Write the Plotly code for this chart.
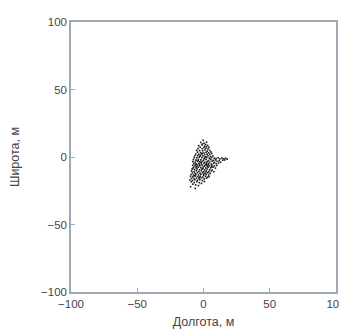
import plotly.graph_objects as go

lon = [-2.1,0.4,2.3,-0.8,1.5,
       -3.6,-1.2,0.9,3.1,-2.5,0.2,2.2,4.0,-4.1,-1.0,1.6,3.3,
       -5.2,-3.0,-0.6,1.1,2.8,4.6,-4.5,-2.2,0.3,2.0,3.9,5.5,-5.8,-3.6,-1.4,0.9,2.7,4.7,6.2,
       -6.5,-4.4,-2.6,-0.5,1.6,3.4,5.3,7.1,-7.0,-5.1,-3.2,-1.3,0.7,2.5,4.4,6.3,8.2,
       9.5,11.0,12.4,13.8,15.2,16.6,17.8,14.5,11.8,10.2,16.0,
       -7.6,-5.7,-3.9,-2.0,0.0,1.9,3.7,5.6,7.4,9.0,-8.0,-6.2,-4.5,-2.7,-0.9,1.0,2.8,4.6,6.5,8.3,12.9,
       -7.3,-5.3,-3.4,-1.6,0.3,2.1,3.9,5.8,7.6,9.6,11.3,
       -8.2,-6.4,-4.6,-2.8,-1.0,0.8,2.6,4.5,6.3,8.2,10.1,-7.5,-5.6,-3.8,-2.0,-0.2,1.7,3.5,5.4,7.2,9.0,
       -8.6,-6.7,-4.9,-3.0,-1.1,0.9,2.7,4.6,6.5,
       -9.0,-7.1,-5.3,-3.5,-1.6,0.3,2.2,4.0,5.9,-8.3,-6.4,-4.5,-2.6,-0.7,1.2,3.1,5.0,
       -9.4,-7.6,-5.7,-3.8,-1.9,0.1,2.0,3.9,
       -9.8,-8.0,-6.1,-4.2,-2.4,-0.5,1.4,3.0,-9.1,-7.2,-5.3,-3.4,-1.5,0.5,2.3,
       -10.3,-8.4,-6.5,-4.6,-2.7,-0.8,
       -9.2,-7.0,-5.0,-3.1,-8.1,-5.9,-3.8,-1.5,
       -4.0,-1.8,0.6,2.4,4.9,-6.0,-3.1,1.4,3.0,-0.4,-5.0,6.0,-2.3,1.3,-1.0,3.6,-7.8,0.0,-2.9,-6.9,
       -0.2,1.9,4.2,7.8,-9.7,-6.2,0.7]
lat = [10.8,10.2,11.0,9.6,9.3,
       8.4,8.9,8.1,8.6,7.2,7.0,7.5,7.1,6.3,6.1,6.4,5.9,
       5.0,4.8,4.6,5.2,4.3,4.9,3.6,3.3,3.0,3.5,3.1,3.8,2.2,2.0,2.4,1.8,2.1,1.9,2.6,
       0.9,1.0,0.6,0.8,0.3,0.9,0.4,0.7,-0.4,-0.6,-0.2,-0.5,-0.8,-0.3,-0.7,-0.4,-0.9,
       -1.2,-0.6,-1.5,-0.8,-1.3,-0.9,-1.6,-2.4,-2.7,-3.1,-2.2,
       -1.9,-2.3,-1.8,-2.1,-2.5,-1.9,-2.6,-2.0,-2.5,-2.2,-3.4,-3.8,-3.2,-3.6,-3.3,-3.9,-3.4,-3.7,-3.2,-3.9,-3.8,
       -4.9,-5.1,-4.6,-5.0,-4.7,-5.3,-4.8,-5.2,-4.7,-5.0,-4.5,
       -6.2,-6.6,-6.0,-6.4,-6.1,-6.7,-6.2,-6.5,-6.0,-6.6,-6.3,-7.7,-8.0,-7.5,-7.9,-7.4,-8.1,-7.6,-8.0,-7.5,-8.2,
       -9.0,-9.3,-8.8,-9.4,-9.0,-9.5,-8.9,-9.3,-9.6,
       -10.4,-10.8,-10.2,-10.7,-10.3,-10.9,-10.4,-10.8,-10.3,-11.8,-12.1,-11.6,-12.0,-11.5,-12.2,-11.7,-12.1,
       -13.0,-13.4,-12.9,-13.3,-12.8,-13.5,-13.0,-13.4,
       -14.3,-14.7,-14.1,-14.6,-14.2,-14.8,-14.3,-14.9,-15.8,-16.1,-15.6,-16.0,-15.5,-16.2,-15.7,
       -17.0,-17.4,-16.9,-17.3,-16.8,-17.5,
       -18.4,-18.9,-18.3,-19.0,-20.1,-20.6,-21.2,-19.6,
       -2.7,-4.1,-1.4,-4.4,-1.3,-5.5,-5.8,-5.9,-7.0,-8.6,-7.1,-7.2,1.4,-0.1,2.7,-5.8,-8.2,-12.6,-15.1,-13.9,
       12.4,-11.1,-14.6,-10.9,-22.0,-23.3,-18.2]

tick_vals = [-100, -50, 0, 50, 100]
tick_text = ["\u2212100", "\u221250", "0", "50", "100"]

axis_color = "#a3a7b5"
family = "Liberation Sans, Arial, sans-serif"
tick_font = dict(family=family, size=11.5, color="#444444")
title_font = dict(family=family, size=12.5, color="#444444")

fig = go.Figure(go.Scatter(
    x=lon, y=lat, mode="markers",
    marker=dict(symbol="square", size=1.6, color="#1a1a1a", line=dict(width=0)),
    hoverinfo="skip"))

common = dict(range=[-100, 100], tickvals=tick_vals, ticktext=tick_text,
              showgrid=False, zeroline=False, showline=True, linecolor=axis_color,
              linewidth=1.5, mirror=True, ticks="inside", ticklen=4,
              tickcolor=axis_color, tickfont=tick_font, automargin=False)

fig.update_xaxes(title=dict(text="Долгота, м", font=title_font, standoff=9), **common)
fig.update_yaxes(title=dict(text="Широта, м", font=title_font, standoff=25), **common)

fig.update_layout(width=347, height=331, margin=dict(l=63, r=19, t=14, b=47),
                  plot_bgcolor="white", paper_bgcolor="white", showlegend=False)

fig.write_html("out.html")
